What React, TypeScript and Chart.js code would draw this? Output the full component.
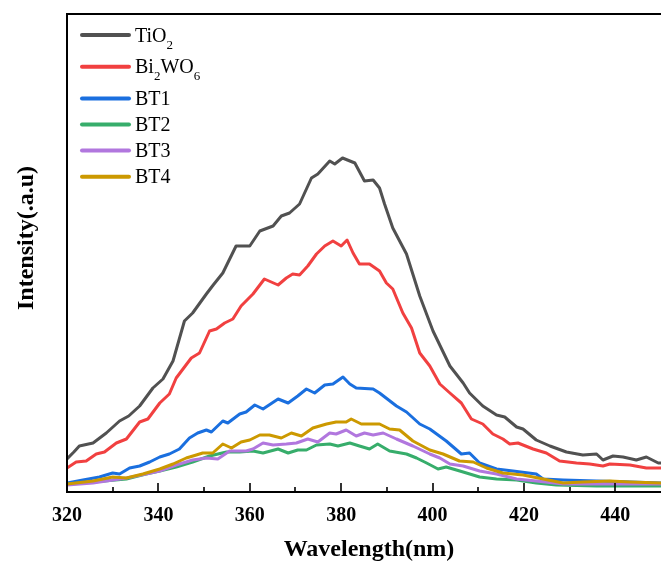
import React, { useEffect, useRef } from "react";
import { Chart, registerables } from "chart.js";

Chart.register(...registerables);

// Legend labels ("_n" marks a subscript digit)
const seriesNames = ["TiO_2", "Bi_2WO_6", "BT1", "BT2", "BT3", "BT4"];
const seriesColors = ["#515151", "#F14040", "#1A6FDF", "#37AD6B", "#B177DE", "#CC9900"];

// x-axis tick labels (major ticks)
const xTickValues = [320, 340, 360, 380, 400, 420, 440];
const xMin = 320;
const xMax = 450;
const yMax = 478;

// [wavelength (nm), intensity (a.u.)]
const tio2: [number, number][] = [
  [320, 33], [321.5, 40], [322.7, 46], [325.7, 49], [328.6, 59], [331.5, 71], [333.5, 76], [335.9, 86],
  [338.8, 104], [341, 113], [343.2, 131], [345.7, 171], [347.5, 179], [350.5, 198], [352, 207],
  [354.1, 219], [357, 246], [360, 246], [362.2, 261], [365.1, 266], [366.9, 276], [368.7, 279],
  [370.9, 288], [373.5, 314], [374.9, 318], [377.5, 331], [378.6, 328], [380.3, 334], [383, 329],
  [385.1, 311], [387, 312], [388.4, 304], [389.5, 288], [391.3, 264], [394.3, 238], [397.2, 196],
  [400.1, 161], [403.8, 126], [406.7, 109], [408.1, 99], [411, 86], [414, 77], [415.8, 75],
  [418.4, 65], [419.8, 63], [422.7, 52], [425.7, 46], [429.3, 40], [432.9, 37], [435.9, 38],
  [437.3, 32], [439.5, 36], [441.7, 35], [444.6, 32], [446.8, 35], [449.4, 29], [450, 29],
];

const bi2wo6: [number, number][] = [
  [320, 24], [322, 30], [324.2, 31], [326.4, 38], [328.2, 40], [330.8, 49], [333, 53], [335.9, 70],
  [337.7, 73], [340.3, 89], [342.4, 98], [343.9, 114], [347.2, 134], [349, 139], [351.2, 161],
  [352.7, 163], [354.5, 169], [356.3, 173], [358.1, 186], [360.7, 198], [363.2, 213], [366.2, 207],
  [368, 214], [369.4, 218], [370.9, 217], [372.7, 226], [374.6, 238], [376.4, 246], [378.2, 251],
  [380, 246], [381.3, 252], [382.6, 239], [384, 228], [386.2, 228], [388.4, 221], [389.9, 209],
  [391.3, 203], [393.5, 179], [395.4, 164], [397.2, 139], [399.4, 126], [401.6, 108], [403.8, 99],
  [406.3, 89], [408.5, 73], [411, 68], [413.2, 58], [415.4, 53], [416.9, 48], [418.7, 49],
  [422, 43], [424.9, 39], [427.8, 31], [431.5, 29], [434.4, 28], [437.3, 26], [438.8, 28],
  [443.2, 27], [446.8, 24], [450, 24],
];

const bt1: [number, number][] = [
  [320, 9], [323.5, 12], [327.1, 15], [330, 19], [331.5, 18], [333.7, 24], [335.9, 26], [338.1, 30],
  [340.3, 35], [342.4, 38], [344.6, 43], [346.8, 54], [348.6, 59], [350.5, 62], [351.6, 60],
  [354.1, 71], [355.2, 69], [357.8, 78], [359.2, 80], [361.1, 87], [362.9, 83], [366.2, 93],
  [368.4, 89], [370.5, 96], [372.4, 103], [374.2, 99], [376.4, 107], [378.2, 108], [380.4, 115],
  [381.9, 108], [383.3, 104], [387, 103], [388.4, 99], [392.1, 86], [394.3, 80], [397.2, 68],
  [399.4, 63], [403, 51], [406.3, 38], [408.1, 39], [410.3, 29], [414, 23], [417.6, 21],
  [422.7, 18], [424.2, 13], [428.6, 12], [435.9, 11], [443.2, 10], [450, 9],
];

const bt2: [number, number][] = [
  [320, 8], [325.7, 10], [333, 13], [337.3, 18], [340.3, 21], [343.9, 25], [347.5, 30], [351.2, 36],
  [354.9, 40], [357.8, 40], [360.7, 41], [362.9, 39], [366.2, 43], [368.4, 39], [370.5, 42],
  [372.4, 42], [374.6, 47], [377.5, 48], [379.3, 46], [381.9, 49], [384, 46], [386.2, 43],
  [388, 48], [390.6, 41], [394.3, 38], [396.5, 34], [398.7, 29], [401.2, 23], [403, 25],
  [406.7, 20], [410.3, 15], [414, 13], [418.4, 12], [422.7, 9], [427.1, 7], [435.9, 6], [450, 6],
];

const bt3: [number, number][] = [
  [320, 7], [325.7, 9], [333, 14], [337.3, 18], [340.3, 21], [343.9, 27], [347.5, 32], [350.5, 34],
  [353, 33], [355.6, 41], [359.2, 41], [360.7, 43], [362.9, 49], [365.1, 47], [368, 48],
  [370.2, 49], [372.7, 53], [374.9, 50], [377.5, 59], [378.9, 58], [381.1, 62], [383.3, 56],
  [385.1, 59], [387, 57], [389.2, 59], [392.1, 53], [395.7, 46], [399.4, 38], [401.6, 34],
  [403.8, 28], [406.7, 26], [410.3, 21], [414, 18], [418.4, 13], [422.7, 11], [428.6, 8], [450, 8],
];

const bt4: [number, number][] = [
  [320, 8], [325.7, 11], [330, 15], [333, 14], [336.6, 18], [340.3, 23], [343.2, 28], [346.1, 34],
  [348.3, 37], [349.7, 39], [351.9, 39], [354.1, 48], [356, 44], [358.1, 50], [360, 52],
  [362.2, 57], [364.3, 57], [366.9, 54], [369.1, 59], [371.3, 56], [373.8, 64], [376.8, 68],
  [378.9, 70], [381.1, 70], [382.2, 73], [384.4, 68], [388.4, 68], [390.6, 63], [392.8, 62],
  [395.7, 51], [399.4, 42], [402.3, 38], [405.9, 31], [408.9, 30], [411.8, 24], [415.4, 19],
  [419.8, 17], [424.2, 13], [428.6, 9], [432.9, 10], [438.8, 11], [443.2, 10], [450, 9],
];

const seriesData = [tio2, bi2wo6, bt1, bt2, bt3, bt4];

const SERIF = "'Times New Roman', 'Liberation Serif', serif";

function parseLabel(s: string): { t: string; sub: boolean }[] {
  const parts: { t: string; sub: boolean }[] = [];
  let i = 0;
  let buf = "";
  while (i < s.length) {
    if (s[i] === "_" && i + 1 < s.length) {
      if (buf) parts.push({ t: buf, sub: false });
      buf = "";
      parts.push({ t: s[i + 1], sub: true });
      i += 2;
    } else {
      buf += s[i];
      i++;
    }
  }
  if (buf) parts.push({ t: buf, sub: false });
  return parts;
}

const framePlugin = {
  id: "originFrame",
  afterDraw(chart: any) {
    const { ctx, chartArea } = chart;
    const { left, top, right, bottom } = chartArea;
    const xs = chart.scales.x;
    ctx.save();
    // frame
    ctx.strokeStyle = "#000";
    ctx.lineWidth = 2;
    ctx.beginPath();
    ctx.moveTo(left, bottom);
    ctx.lineTo(left, top);
    ctx.lineTo(right + 2, top);
    ctx.moveTo(left - 1, bottom);
    ctx.lineTo(right + 2, bottom);
    ctx.stroke();
    // inward ticks on the x axis
    ctx.lineWidth = 1.6;
    ctx.beginPath();
    for (let v = xMin + 10; v < xMax; v += 10) {
      const px = Math.round(xs.getPixelForValue(v)) + 0.0;
      const len = v % 20 === 0 ? 9 : 5;
      ctx.moveTo(px, bottom);
      ctx.lineTo(px, bottom - len);
    }
    ctx.stroke();

    // axis titles
    ctx.fillStyle = "#000";
    ctx.font = `bold 24px ${SERIF}`;
    ctx.textAlign = "center";
    ctx.textBaseline = "alphabetic";
    ctx.fillText("Wavelength(nm)", 369, 556);
    ctx.save();
    ctx.translate(33, 238);
    ctx.rotate(-Math.PI / 2);
    ctx.fillText("Intensity(.a.u)", 0, 0);
    ctx.restore();

    // legend
    let y = 35;
    seriesNames.forEach((name, i) => {
      const parts = parseLabel(name);
      ctx.strokeStyle = seriesColors[i];
      ctx.lineWidth = 4;
      ctx.lineCap = "round";
      ctx.beginPath();
      ctx.moveTo(82, y);
      ctx.lineTo(129, y);
      ctx.stroke();
      let x = 135;
      const base = y + 6.6;
      parts.forEach((p) => {
        ctx.font = p.sub ? `13px ${SERIF}` : `20px ${SERIF}`;
        ctx.textAlign = "left";
        ctx.fillText(p.t, x, p.sub ? base + 7 : base);
        x += ctx.measureText(p.t).width;
      });
      const hasSub = parts.some((p) => p.sub);
      y += hasSub ? 31.7 : 26.1;
    });
    ctx.restore();
  },
};

export default function App() {
  const canvasRef = useRef<HTMLCanvasElement | null>(null);

  useEffect(() => {
    if (!canvasRef.current) return;
    const chart = new Chart(canvasRef.current, {
      type: "line",
      data: {
        datasets: seriesData.map((d, i) => ({
          label: seriesNames[i],
          data: d.map(([x, y]) => ({ x, y })),
          borderColor: seriesColors[i],
          backgroundColor: seriesColors[i],
          borderWidth: 3,
          pointRadius: 0,
          tension: 0,
          fill: false,
          borderJoinStyle: "round" as const,
          order: seriesData.length - i,
        })),
      },
      options: {
        animation: false,
        responsive: false,
        devicePixelRatio: 1,
        layout: { padding: { top: 14, right: 0, left: 0, bottom: 0 } },
        plugins: {
          legend: { display: false },
          tooltip: { enabled: false },
          title: { display: false },
        },
        scales: {
          x: {
            type: "linear",
            min: xMin,
            max: xMax,
            afterFit: (scale: any) => {
              scale.height = 70;
            },
            afterBuildTicks: (scale: any) => {
              scale.ticks = xTickValues.map((v) => ({ value: v }));
            },
            grid: { display: false, drawTicks: false },
            border: { display: false },
            ticks: {
              color: "#000",
              padding: 12,
              maxRotation: 0,
              autoSkip: false,
              includeBounds: false,
              font: { family: SERIF, size: 20, weight: "bold" },
            },
          },
          y: {
            type: "linear",
            min: 0,
            max: yMax,
            afterFit: (scale: any) => {
              scale.width = 67;
            },
            grid: { display: false, drawTicks: false },
            border: { display: false },
            ticks: { display: false },
          },
        },
      },
      plugins: [framePlugin],
    });
    return () => chart.destroy();
  }, []);

  return (
    <div style={{ position: "fixed", left: 0, top: 0, width: 661, height: 562, background: "#fff" }}>
      <canvas ref={canvasRef} width={661} height={562} />
    </div>
  );
}
